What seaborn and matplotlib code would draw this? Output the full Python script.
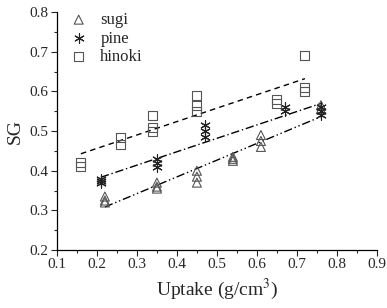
import numpy as np
import pandas as pd
import matplotlib
matplotlib.use("Agg")
import matplotlib.pyplot as plt
import seaborn as sns
from matplotlib.ticker import MultipleLocator

# data
sugi_x = [0.22, 0.22, 0.22, 0.35, 0.35, 0.35, 0.45, 0.45, 0.45, 0.54, 0.54, 0.54,
          0.61, 0.61, 0.61, 0.76, 0.76]
sugi_y = [0.335, 0.325, 0.32, 0.37, 0.36, 0.355, 0.40, 0.385, 0.37, 0.435, 0.43, 0.425,
          0.49, 0.475, 0.46, 0.565, 0.555]
pine_x = [0.21, 0.21, 0.21, 0.35, 0.35, 0.35, 0.47, 0.47, 0.47, 0.67, 0.67,
          0.76, 0.76, 0.76]
pine_y = [0.38, 0.375, 0.37, 0.43, 0.42, 0.41, 0.515, 0.50, 0.485, 0.56, 0.55,
          0.56, 0.55, 0.54]
hinoki_x = [0.16, 0.16, 0.26, 0.26, 0.34, 0.34, 0.34, 0.45, 0.45, 0.45, 0.65, 0.65,
            0.72, 0.72, 0.72]
hinoki_y = [0.42, 0.41, 0.485, 0.465, 0.54, 0.51, 0.50, 0.59, 0.565, 0.55, 0.58, 0.57,
            0.69, 0.61, 0.60]

series = [
    ("sugi", sugi_x, sugi_y, "^", (0, (6, 2, 1, 2, 1, 2))),
    ("pine", pine_x, pine_y, (6, 2, 0), (0, (6, 2, 1, 2))),
    ("hinoki", hinoki_x, hinoki_y, "s", (0, (4, 3))),
]

sns.set_style("ticks")
plt.rcParams["font.family"] = ["Liberation Serif", "DejaVu Serif"]
plt.rcParams["mathtext.fontset"] = "stix"

fig = plt.figure(figsize=(3.87, 3.08), dpi=100)
ax = fig.add_axes([0.147, 0.188, 0.827, 0.773])

for name, xs, ys, marker, ls in series:
    df = pd.DataFrame({"x": xs, "y": ys})
    if marker == "^" or marker == "s":
        ax.scatter(df["x"], df["y"], marker=marker, s=42, facecolors="none",
                   edgecolors="#555555", linewidths=0.8, label=name, zorder=3)
    else:
        ax.scatter(df["x"], df["y"], marker=(6, 2, 0), s=48, color="#222222",
                   linewidths=0.8, label=name, zorder=3)
    sns.regplot(data=df, x="x", y="y", ax=ax, scatter=False, ci=None, truncate=True,
                line_kws={"color": "black", "lw": 1.0, "linestyle": ls})

ax.set_xlim(0.1, 0.9)
ax.set_ylim(0.2, 0.8)
ax.xaxis.set_major_locator(MultipleLocator(0.1))
ax.xaxis.set_minor_locator(MultipleLocator(0.05))
ax.yaxis.set_major_locator(MultipleLocator(0.1))
ax.yaxis.set_minor_locator(MultipleLocator(0.05))
ax.set_xticks(np.arange(0.1, 0.91, 0.1))
ax.set_xticklabels([f"{v:.1f}" for v in np.arange(0.1, 0.91, 0.1)])
ax.set_yticks(np.arange(0.2, 0.81, 0.1))
ax.set_yticklabels([f"{v:.1f}" for v in np.arange(0.2, 0.81, 0.1)])
ax.tick_params(which="major", direction="out", length=4, width=0.8, labelsize=11, pad=2)
ax.tick_params(which="minor", direction="out", length=2, width=0.8)
sns.despine(ax=ax)
for sp in ["left", "bottom"]:
    ax.spines[sp].set_linewidth(0.9)
    ax.spines[sp].set_color("black")

ax.set_xlabel("Uptake (g/cm$^3$)", fontsize=14, labelpad=4)
ax.set_ylabel("SG", fontsize=14, labelpad=4)

ax.legend(loc="upper left", frameon=False, fontsize=12, handletextpad=0.3,
          borderaxespad=0.0, borderpad=0.0, labelspacing=0.15,
          bbox_to_anchor=(0.016, 1.0))

fig.savefig("out.png", dpi=100)
